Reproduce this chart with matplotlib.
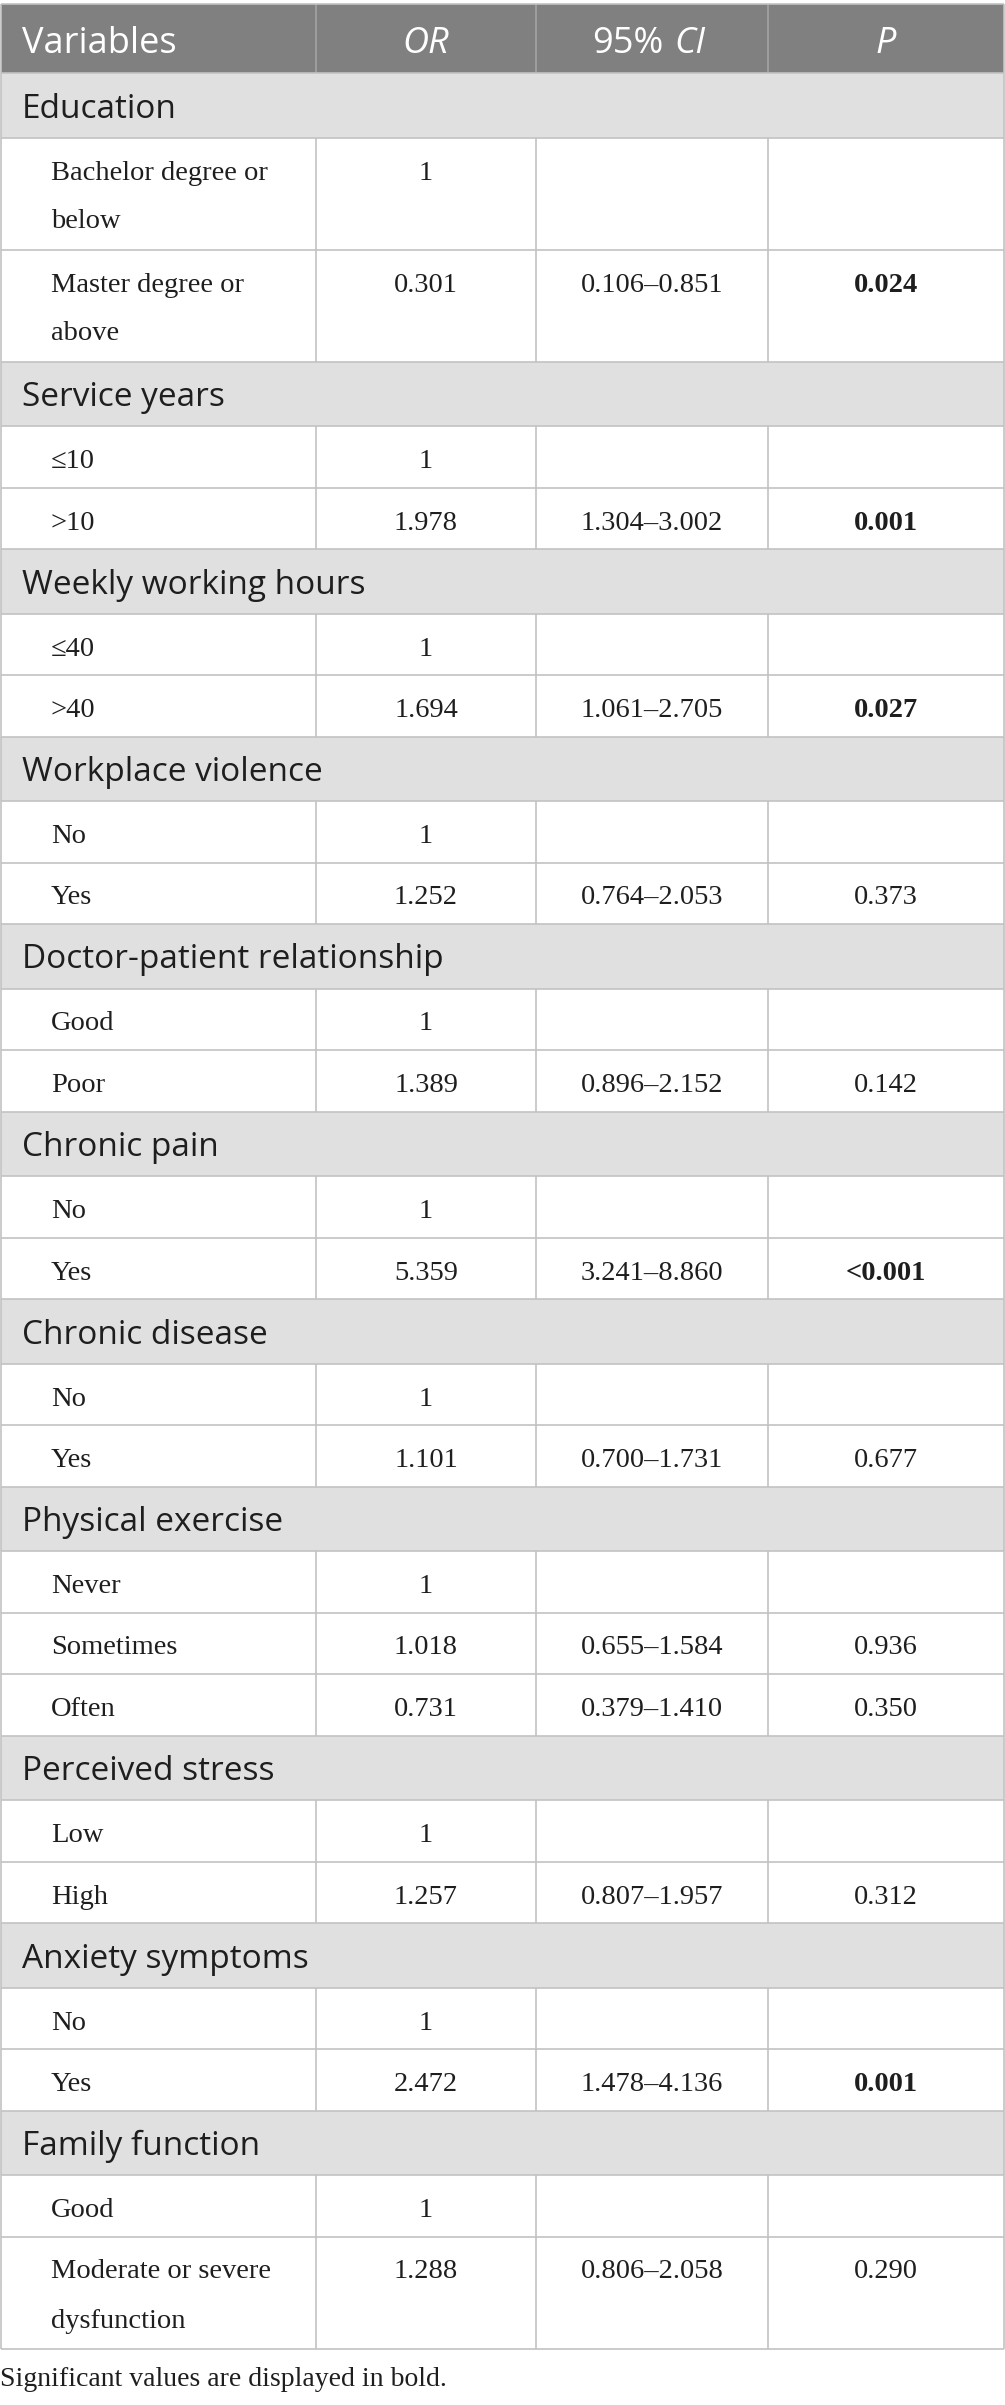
import matplotlib
matplotlib.use("Agg")
import matplotlib.pyplot as plt
from matplotlib.patches import Rectangle

# ---------------- data ----------------
columns = ["Variables", "OR", "95% CI", "P"]
variables = ["Education", "Service years", "Weekly working hours", "Workplace violence",
             "Doctor-patient relationship", "Chronic pain", "Chronic disease",
             "Physical exercise", "Perceived stress", "Anxiety symptoms", "Family function"]
levels = [
    ["Bachelor degree or\nbelow", "Master degree or\nabove"],
    ["≤10", ">10"],
    ["≤40", ">40"],
    ["No", "Yes"],
    ["Good", "Poor"],
    ["No", "Yes"],
    ["No", "Yes"],
    ["Never", "Sometimes", "Often"],
    ["Low", "High"],
    ["No", "Yes"],
    ["Good", "Moderate or severe\ndysfunction"],
]
odds_ratios = [["1", "0.301"], ["1", "1.978"], ["1", "1.694"], ["1", "1.252"], ["1", "1.389"],
               ["1", "5.359"], ["1", "1.101"], ["1", "1.018", "0.731"], ["1", "1.257"],
               ["1", "2.472"], ["1", "1.288"]]
conf_int = [["", "0.106–0.851"], ["", "1.304–3.002"], ["", "1.061–2.705"], ["", "0.764–2.053"],
            ["", "0.896–2.152"], ["", "3.241–8.860"], ["", "0.700–1.731"],
            ["", "0.655–1.584", "0.379–1.410"], ["", "0.807–1.957"], ["", "1.478–4.136"],
            ["", "0.806–2.058"]]
p_values = [["", "0.024"], ["", "0.001"], ["", "0.027"], ["", "0.373"], ["", "0.142"],
            ["", "<0.001"], ["", "0.677"], ["", "0.936", "0.350"], ["", "0.312"],
            ["", "0.001"], ["", "0.290"]]
significant = [[False, True], [False, True], [False, True], [False, False], [False, False],
               [False, True], [False, False], [False, False, False], [False, False],
               [False, True], [False, False]]
footnote = "Significant values are displayed in bold."

# ---------------- style ----------------
W, H = 1005, 2405
SANS = ["Open Sans", "DejaVu Sans"]
SERIF = ["Liberation Serif", "DejaVu Serif"]
HEADER_BG = "#7f807f"
SECTION_BG = "#e1e0e1"
BORDER = "#c2c2c2"
HEADER_SEP = "#a3a3a3"
TEXT = "#1e1e1e"

col_edges = [1, 316, 536, 768, 1004]
col_centers = [(col_edges[i] + col_edges[i + 1]) / 2 for i in range(4)]

top = 4
header_h = 69
section_h = 64.5
line_h = 50.5
single_h = 61.5
text_line = 49

fig = plt.figure(figsize=(W / 100, H / 100), dpi=100)
ax = fig.add_axes([0, 0, 1, 1])
ax.set_xlim(0, W)
ax.set_ylim(H, 0)
ax.axis("off")

lw = 1.2

# header
ax.add_patch(Rectangle((col_edges[0], top), col_edges[-1] - col_edges[0], header_h,
                       facecolor=HEADER_BG, edgecolor="none", zorder=1))
for x in col_edges[1:-1]:
    ax.vlines(x, top, top + header_h, colors=HEADER_SEP, lw=lw, zorder=2)
hb = top + 49
ax.text(22, hb, columns[0], family=SANS, fontsize=26, color="white", va="baseline", ha="left")
ax.text(col_centers[1], hb, columns[1], family=SANS, fontsize=26, color="white",
        style="italic", va="baseline", ha="center")
pct, ci_lab = columns[2].split(" ")
ax.text(663, hb, pct, family=SANS, fontsize=26, color="white", va="baseline", ha="right")
ax.text(674, hb, ci_lab, family=SANS, fontsize=26, color="white", style="italic",
        va="baseline", ha="left")
ax.text(col_centers[3], hb, columns[3], family=SANS, fontsize=26, color="white",
        style="italic", va="baseline", ha="center")

y = top + header_h
hlines = [top, y]
for gi, var in enumerate(variables):
    ax.add_patch(Rectangle((col_edges[0], y), col_edges[-1] - col_edges[0], section_h,
                           facecolor=SECTION_BG, edgecolor="none", zorder=1))
    ax.text(22, y + 44.5, var, family=SANS, fontsize=24, color=TEXT,
            va="baseline", ha="left", zorder=3)
    y += section_h
    hlines.append(y)
    for li, lab in enumerate(levels[gi]):
        parts = lab.split("\n")
        h = single_h + line_h * (len(parts) - 1)
        base = y + 42
        for k, part in enumerate(parts):
            ax.text(51, base + k * text_line, part, family=SERIF, fontsize=20.5, color=TEXT,
                    va="baseline", ha="left", zorder=3)
        ax.text(col_centers[1], base, odds_ratios[gi][li], family=SERIF, fontsize=20.5,
                color=TEXT, va="baseline", ha="center", zorder=3)
        ax.text(col_centers[2], base, conf_int[gi][li], family=SERIF, fontsize=20.5,
                color=TEXT, va="baseline", ha="center", zorder=3)
        ax.text(col_centers[3], base, p_values[gi][li], family=SERIF, fontsize=20.5,
                color=TEXT, va="baseline", ha="center",
                weight="bold" if significant[gi][li] else "normal", zorder=3)
        for x in col_edges[1:-1]:
            ax.vlines(x, y, y + h, colors=BORDER, lw=lw, zorder=2)
        y += h
        hlines.append(y)

ax.hlines(hlines, col_edges[0], col_edges[-1], colors=BORDER, lw=lw, zorder=2)
ax.vlines([col_edges[0], col_edges[-1]], top, y, colors=BORDER, lw=lw, zorder=2)

ax.text(0, y + 38, footnote, family=SERIF, fontsize=20, color=TEXT, va="baseline", ha="left")

fig.savefig("out.png", dpi=100, facecolor="white")
